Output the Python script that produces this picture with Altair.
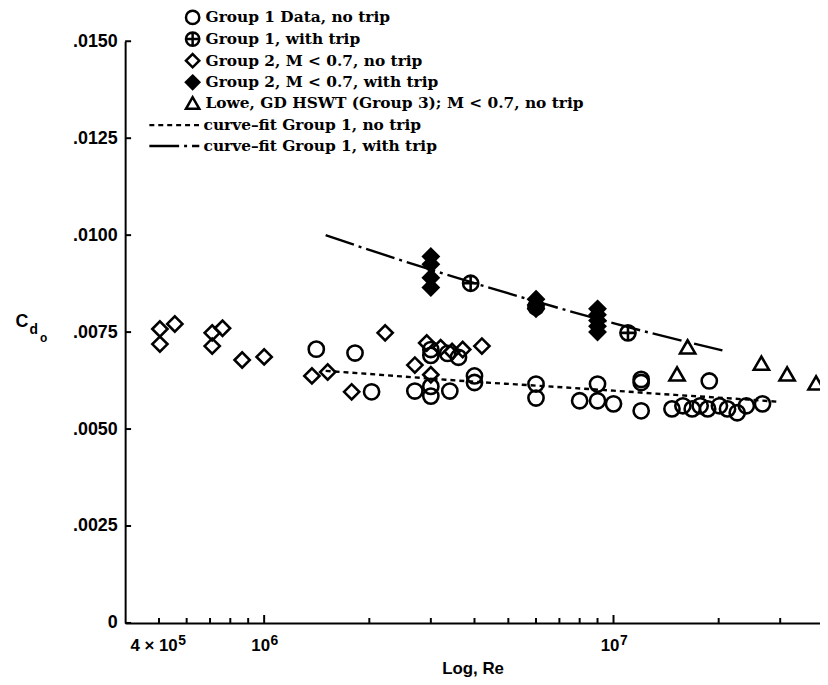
import altair as alt
import pandas as pd

# ---------------- data ----------------
L1 = "Group 1 Data, no trip"
L2 = "Group 1, with trip"
L3 = "Group 2, M < 0.7, no trip"
L4 = "Group 2, M < 0.7, with trip"
L5 = "Lowe, GD HSWT (Group 3); M < 0.7, no trip"
C1 = "curve–fit Group 1, no trip"
C2 = "curve–fit Group 1, with trip"

g1_nt_re = [1.41e6, 1.82e6, 2.03e6, 2.70e6, 3.00e6, 3.00e6, 3.00e6, 3.00e6, 3.35e6,
            3.40e6, 3.60e6, 4.00e6, 4.00e6, 6.00e6, 6.00e6, 8.00e6, 9.00e6, 9.00e6,
            1.00e7, 1.20e7, 1.20e7, 1.20e7, 1.47e7, 1.58e7, 1.68e7, 1.77e7, 1.86e7,
            1.88e7, 2.01e7, 2.12e7, 2.26e7, 2.40e7, 2.67e7]
g1_nt_cd = [0.00706, 0.00696, 0.00596, 0.00598, 0.00705, 0.00690, 0.00610, 0.00585, 0.00695,
            0.00598, 0.00685, 0.00637, 0.00620, 0.00616, 0.00580, 0.00573, 0.00616, 0.00573,
            0.00565, 0.00628, 0.00620, 0.00547, 0.00552, 0.00560, 0.00552, 0.00560, 0.00552,
            0.00624, 0.00560, 0.00552, 0.00542, 0.00560, 0.00565]

g1_t_re = [3.9e6, 6.0e6, 1.1e7]
g1_t_cd = [0.00876, 0.00815, 0.00748]

g2_nt_re = [5.03e5, 5.55e5, 5.03e5, 7.10e5, 7.60e5, 7.10e5, 8.65e5, 1.00e6, 1.37e6,
            1.52e6, 1.78e6, 2.22e6, 2.70e6, 2.92e6, 3.00e6, 3.20e6, 3.45e6, 3.70e6, 4.20e6]
g2_nt_cd = [0.00758, 0.00771, 0.00719, 0.00748, 0.00760, 0.00714, 0.00678, 0.00686, 0.00637,
            0.00647, 0.00596, 0.00748, 0.00665, 0.00722, 0.00640, 0.00710, 0.00700, 0.00705, 0.00714]

g2_t_re = [3.0e6, 3.0e6, 3.0e6, 3.0e6, 6.0e6, 6.0e6, 6.0e6, 9.0e6, 9.0e6, 9.0e6, 9.0e6, 9.0e6]
g2_t_cd = [0.00945, 0.00925, 0.00890, 0.00865, 0.00835, 0.00820, 0.00810,
           0.00810, 0.00795, 0.00780, 0.00765, 0.00750]

lowe_re = [1.52e7, 1.63e7, 2.65e7, 3.14e7, 3.80e7]
lowe_cd = [0.00642, 0.00712, 0.00670, 0.00642, 0.00619]

fit_nt_re = [1.5e6, 2e6, 3e6, 4e6, 6e6, 1e7, 1.5e7, 2e7, 3e7]
fit_nt_cd = [0.00650, 0.00642, 0.00630, 0.00622, 0.00612, 0.00599, 0.00588, 0.00581, 0.00570]

fit_t_re = [1.5e6, 2e6, 3e6, 4e6, 6e6, 9e6, 1.2e7, 1.6e7, 2.05e7]
fit_t_cd = [0.01000, 0.00962, 0.00911, 0.00876, 0.00829, 0.00784, 0.00754, 0.00726, 0.00703]

y_ticks = [0, 0.0025, 0.0050, 0.0075, 0.0100, 0.0125, 0.0150]
x_minor = [5e5, 6e5, 7e5, 8e5, 9e5, 2e6, 3e6, 4e6, 5e6, 6e6, 7e6, 8e6, 9e6, 2e7, 3e7]
x_major = [1e6, 1e7]
xlab_first = [4e5]
xlab_first_base = ["4 × 10"]
xlab_first_sup = ["5"]
xlab_re = [1e6, 1e7]
xlab_base = ["10", "10"]
xlab_sup = ["6", "7"]

# ---------------- tables ----------------
groups = [L1, L2, L3, L4, L5]
pts = pd.concat([
    pd.DataFrame({"re": g1_nt_re, "cd": g1_nt_cd, "g": L1}),
    pd.DataFrame({"re": g1_t_re, "cd": g1_t_cd, "g": L2}),
    pd.DataFrame({"re": g2_nt_re, "cd": g2_nt_cd, "g": L3}),
    pd.DataFrame({"re": g2_t_re, "cd": g2_t_cd, "g": L4}),
    pd.DataFrame({"re": lowe_re, "cd": lowe_cd, "g": L5}),
], ignore_index=True)

curves = pd.concat([
    pd.DataFrame({"re": fit_nt_re, "cd": fit_nt_cd, "s": C1}),
    pd.DataFrame({"re": fit_t_re, "cd": fit_t_cd, "s": C2}),
], ignore_index=True)

W, H = 700, 586
SANS = "Liberation Sans"
SERIF = "DejaVu Serif"

xscale = alt.Scale(type="log", domain=[4e5, 3.9e7], nice=False)
yscale = alt.Scale(domain=[0, 0.015], nice=False, zero=False)

XAXIS = alt.Axis(title="Log, Re", labels=False, ticks=False, grid=False,
                 titleFont=SANS, titleFontWeight="bold", titleFontSize=17,
                 titleColor="black", titlePadding=38,
                 domainColor="black", domainWidth=2)
YAXIS = alt.Axis(title=None, values=y_ticks, ticks=False, grid=False,
                 labelExpr="datum.value == 0 ? '0' : substring(format(datum.value, '.4f'), 1)",
                 labelFont=SANS, labelFontWeight="bold", labelFontSize=18,
                 labelColor="black", labelPadding=8,
                 domainColor="black", domainWidth=2)


def X():
    return alt.X("re:Q", scale=xscale, axis=XAXIS)


def Y():
    return alt.Y("cd:Q", scale=yscale, axis=YAXIS)


K = 0.5523
circle_path = (f"M1,0C1,{K} {K},1 0,1C-{K},1 -1,{K} -1,0"
               f"C-1,-{K} -{K},-1 0,-1C{K},-1 1,-{K} 1,0Z")
plus_circle = circle_path + "M-1,0L1,0M0,-1L0,1"
solid_diamond = ("M0,-1L1,0L0,1L-1,0Z"
                 "M0,-0.68L0.68,0L0,0.68L-0.68,0Z"
                 "M0,-0.36L0.36,0L0,0.36L-0.36,0Z"
                 "M-0.12,0L0.12,0")

points = alt.Chart(pts).mark_point(size=235, strokeWidth=2.6, stroke="black",
                                   fill="transparent", opacity=1).encode(
    x=X(), y=Y(),
    shape=alt.Shape("g:N", scale=alt.Scale(domain=groups,
                    range=[circle_path, plus_circle, "diamond", solid_diamond, "triangle-up"]),
                    legend=alt.Legend(
                        orient="none", legendX=60, legendY=-32, title=None,
                        labelFont=SERIF, labelFontWeight="bold", labelFontSize=15.5,
                        labelColor="black", labelOffset=5, rowPadding=-2.2, padding=0,
                        symbolSize=180, symbolStrokeColor="black", symbolStrokeWidth=2.5,
                        symbolFillColor="transparent", labelLimit=600)),
)

lines = alt.Chart(curves).mark_line(color="black", strokeWidth=2.4, interpolate="monotone").encode(
    x=X(), y=Y(),
    strokeDash=alt.StrokeDash("s:N", scale=alt.Scale(domain=[C1, C2], range=[[5, 4], [30, 5, 3, 5]]),
                              legend=alt.Legend(
                                  orient="none", legendX=60, legendY=76.5, title=None,
                                  labelFont=SERIF, labelFontWeight="bold", labelFontSize=15.5,
                                  labelColor="black", labelOffset=3, rowPadding=4, padding=0,
                                  symbolType="M-6.5,0L1,0", symbolSize=180,
                                  symbolStrokeColor="black", symbolStrokeWidth=2.4, labelLimit=600)),
)

ytick_layer = alt.Chart(pd.DataFrame({"cd": y_ticks})).mark_rule(color="black", strokeWidth=2).encode(
    y=Y(), x=alt.value(0), x2=alt.value(6))

xminor_layer = alt.Chart(pd.DataFrame({"re": x_minor})).mark_rule(color="black", strokeWidth=2).encode(
    x=X(), y=alt.value(H), y2=alt.value(H - 5))

xmajor_layer = alt.Chart(pd.DataFrame({"re": x_major})).mark_rule(color="black", strokeWidth=2).encode(
    x=X(), y=alt.value(H), y2=alt.value(H - 8))


def xlab(vals, base, sup, dx):
    df = pd.DataFrame({"re": vals, "b": base, "s": sup})
    b = alt.Chart(df).mark_text(font=SANS, fontWeight="bold", fontSize=17, color="black",
                                align="right", baseline="alphabetic", dx=dx).encode(
        x=X(), y=alt.value(H + 28), text="b:N")
    s = alt.Chart(df).mark_text(font=SANS, fontWeight="bold", fontSize=14, color="black",
                                align="left", baseline="alphabetic", dx=dx + 0.5).encode(
        x=X(), y=alt.value(H + 22), text="s:N")
    return [b, s]


def ytitle(t, x, y, size):
    return alt.Chart(pd.DataFrame({"t": [t]})).mark_text(
        font=SANS, fontWeight="bold", fontSize=size, color="black").encode(
        text="t:N", x=alt.value(x), y=alt.value(y))


layers = [lines, points, ytick_layer, xminor_layer, xmajor_layer]
layers += xlab(xlab_first, xlab_first_base, xlab_first_sup, 53)
layers += xlab(xlab_re, xlab_base, xlab_sup, 6)
layers += [ytitle("C", -104, 283, 18), ytitle("d", -92, 291, 14), ytitle("o", -82, 299, 12)]

chart = alt.layer(*layers).properties(
    width=W, height=H,
    autosize=alt.AutoSizeParams(type="none"),
    padding={"left": 118, "top": 31, "right": 0, "bottom": 58},
    background="white",
).configure_view(stroke=None)

chart.save("out.html", embed_options={"renderer": "svg", "actions": False})
